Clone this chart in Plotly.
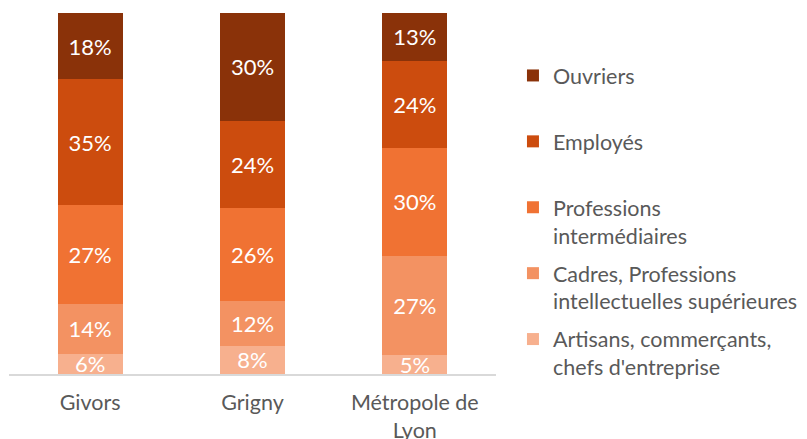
import plotly.graph_objects as go

categories = ["Givors", "Grigny", "Métropole de<br>Lyon"]
series_names = [
    "Artisans, commerçants,<br>chefs d'entreprise",
    "Cadres, Professions<br>intellectuelles supérieures",
    "Professions<br>intermédiaires",
    "Employés<br> ",
    "Ouvriers<br> ",
]
artisans = [5.6, 7.8, 5.3]
cadres = [13.8, 12.4, 27.4]
prof_inter = [27.4, 25.8, 30.0]
employes = [34.9, 24.1, 24.1]
ouvriers = [18.3, 29.9, 13.2]
series_values = [artisans, cadres, prof_inter, employes, ouvriers]
colors = ["#F7B08E", "#F39262", "#F07233", "#CC4C0E", "#8A3209"]

# page body has an 8px margin: figure is sized to fit the 807x439 window
W, H = 799, 431

fig = go.Figure()
for i, (name, vals, col) in enumerate(zip(series_names, series_values, colors)):
    fig.add_trace(go.Bar(
        x=categories, y=vals, name=name, marker=dict(color=col, line=dict(width=0)),
        texttemplate="%{y:.0f}%", textposition="inside", insidetextanchor="middle",
        constraintext="none", cliponaxis=True,
        textfont=dict(color="white", size=22, family="Lato"),
        legendgroup=f"g{i}", legendrank=5 - i,
    ))

fig.update_layout(
    barmode="stack", bargap=0.6,
    width=W, height=H,
    margin=dict(l=1, r=311, t=5, b=65, autoexpand=False),
    plot_bgcolor="white", paper_bgcolor="white",
    font=dict(family="Lato", color="#595959", size=21.5),
    legend=dict(
        traceorder="grouped", tracegroupgap=7, valign="top",
        x=0.632, xref="container", xanchor="left", y=0.891, yref="container", yanchor="top",
        font=dict(size=21.5, color="#595959"), itemclick=False, maxheight=1.0,
    ),
    showlegend=True,
)
fig.update_xaxes(showline=True, linecolor="#D9D9D9", linewidth=2, ticks="outside", ticklen=8,
                 tickcolor="rgba(0,0,0,0)", tickfont=dict(size=21.5, color="#595959"), showgrid=False)
fig.update_yaxes(visible=False, range=[0, 100], showgrid=False)

fig.write_html("out.html")
